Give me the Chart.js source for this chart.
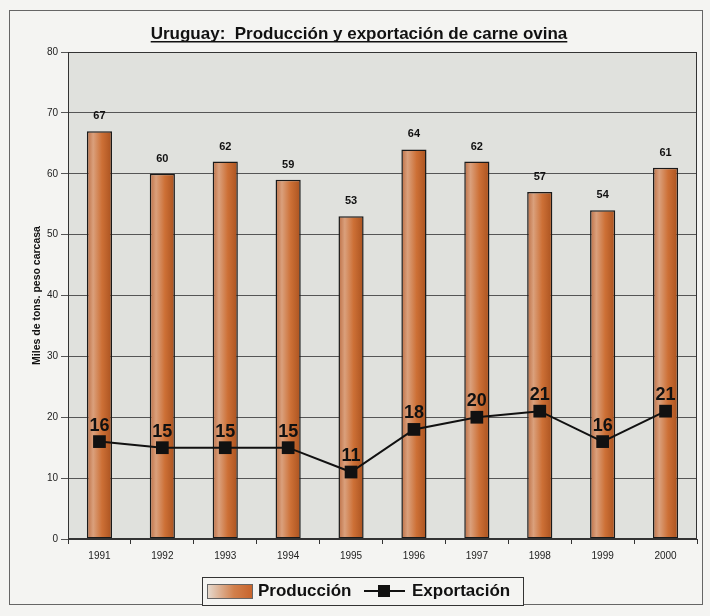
<!DOCTYPE html>
<html>
<head>
<meta charset="utf-8">
<script src="https://cdn.jsdelivr.net/npm/chart.js@4/dist/chart.umd.min.js"></script>
<style>
  html, body { margin: 0; padding: 0; background: #f4f4f2; }
  #wrap { position: relative; width: 710px; height: 616px; }
  #frame { position: absolute; left: 9px; top: 10px; width: 694px; height: 595px; border: 1px solid #666; box-sizing: border-box; }
  canvas { position: absolute; left: 0; top: 0; }
</style>
</head>
<body>
<div id="wrap">
  <div id="frame"></div>
  <canvas id="chart" width="710" height="616"></canvas>
</div>
<script>
// --- data ---
const years = ['1991','1992','1993','1994','1995','1996','1997','1998','1999','2000'];
const produccion = [67, 60, 62, 59, 53, 64, 62, 57, 54, 61];
const exportacion = [16, 15, 15, 15, 11, 18, 20, 21, 16, 21];
const yTicks = [0, 10, 20, 30, 40, 50, 60, 70, 80];

const titleText = 'Uruguay:  Producción y exportación de carne ovina';
const FONT = 'Arial, "Liberation Sans", Helvetica, sans-serif';
const BAR_PCT = 0.4;

// lighter on the left, darker orange-brown on the right
function barGradient(ctx){
  const chart = ctx.chart;
  const xs = chart.scales && chart.scales.x;
  if(!chart.chartArea || !xs) return '#c8703a';
  const cx = xs.getPixelForValue(ctx.dataIndex);
  const w = xs.width / years.length * BAR_PCT;
  const g = chart.ctx.createLinearGradient(cx - w/2, 0, cx + w/2, 0);
  g.addColorStop(0, '#bc6e44');
  g.addColorStop(0.25, '#daa07c');
  g.addColorStop(0.6, '#cd7036');
  g.addColorStop(1, '#aa521f');
  return g;
}

// plot background + frame
const plotBg = {
  id: 'plotBg',
  beforeDraw(chart){
    const { ctx, chartArea: a } = chart;
    ctx.save();
    ctx.fillStyle = '#e0e1dd';
    ctx.fillRect(a.left, a.top, a.right - a.left, a.bottom - a.top);
    ctx.restore();
  },
  afterDraw(chart){
    const { ctx, chartArea: a } = chart;
    ctx.save();
    ctx.strokeStyle = '#333';
    ctx.lineWidth = 1;
    ctx.strokeRect(a.left + 0.5, a.top + 0.5, a.right - a.left - 1, a.bottom - a.top - 1);
    ctx.restore();
  }
};

// title with underline
const underlinedTitle = {
  id: 'underlinedTitle',
  afterDraw(chart){
    const ctx = chart.ctx;
    ctx.save();
    ctx.font = 'bold 17px ' + FONT;
    ctx.fillStyle = '#111';
    ctx.textAlign = 'center';
    ctx.textBaseline = 'alphabetic';
    const cx = 359, by = 39;
    ctx.fillText(titleText, cx, by);
    const w = ctx.measureText(titleText).width;
    ctx.fillRect(cx - w/2, by + 2, w, 1.5);
    ctx.restore();
  }
};

// value labels over bars and points
const valueLabels = {
  id: 'valueLabels',
  afterDatasetsDraw(chart){
    const ctx = chart.ctx;
    ctx.save();
    ctx.textAlign = 'center';
    ctx.textBaseline = 'middle';
    ctx.fillStyle = '#111';
    chart.data.datasets.forEach((ds, di) => {
      const meta = chart.getDatasetMeta(di);
      meta.data.forEach((el, i) => {
        if (ds.type === 'bar') {
          ctx.font = 'bold 11px ' + FONT;
          ctx.fillText(String(produccion[i]), el.x, el.y - 15);
        } else {
          ctx.font = 'bold 18px ' + FONT;
          ctx.fillText(String(exportacion[i]), el.x, el.y - 16);
        }
      });
    });
    ctx.restore();
  }
};

// legend box at the bottom
const boxLegend = {
  id: 'boxLegend',
  afterDraw(chart){
    const ctx = chart.ctx;
    const x0 = 202, y0 = 577, w = 321, h = 28;
    ctx.save();
    ctx.fillStyle = '#f4f4f2';
    ctx.fillRect(x0, y0, w, h);
    ctx.strokeStyle = '#333';
    ctx.lineWidth = 1;
    ctx.strokeRect(x0 + 0.5, y0 + 0.5, w, h);
    const g = ctx.createLinearGradient(207, 0, 252, 0);
    g.addColorStop(0, '#e6dcd2');
    g.addColorStop(0.6, '#d2804c');
    g.addColorStop(1, '#c8642c');
    ctx.fillStyle = g;
    ctx.fillRect(207, 584, 45, 14);
    ctx.strokeStyle = '#666';
    ctx.strokeRect(207.5, 584.5, 45, 14);
    ctx.font = 'bold 17px ' + FONT;
    ctx.fillStyle = '#111';
    ctx.textBaseline = 'middle';
    ctx.textAlign = 'left';
    ctx.fillText('Producción', 258, 591);
    ctx.strokeStyle = '#111';
    ctx.lineWidth = 2;
    ctx.beginPath(); ctx.moveTo(364, 591); ctx.lineTo(405, 591); ctx.stroke();
    ctx.fillRect(378, 585, 12, 12);
    ctx.fillText('Exportación', 412, 591);
    ctx.restore();
  }
};

new Chart(document.getElementById('chart'), {
  data: {
    labels: years,
    datasets: [
      {
        type: 'line',
        label: 'Exportación',
        data: exportacion,
        borderColor: '#111',
        borderWidth: 2,
        backgroundColor: '#111',
        pointStyle: 'rect',
        pointRadius: 9,
        pointBackgroundColor: '#111',
        pointBorderWidth: 0,
        order: 0
      },
      {
        type: 'bar',
        label: 'Producción',
        data: produccion,
        backgroundColor: barGradient,
        borderColor: '#1a1a1a',
        borderWidth: 1.5,
        borderSkipped: false,
        categoryPercentage: 1,
        barPercentage: BAR_PCT,
        order: 1
      }
    ]
  },
  options: {
    responsive: false,
    animation: false,
    events: [],
    layout: { padding: { top: 52, right: 13, bottom: 0, left: 0 } },
    plugins: { legend: { display: false }, title: { display: false }, tooltip: { enabled: false } },
    scales: {
      x: {
        offset: true,
        grid: { display: true, drawOnChartArea: false, offset: true, tickLength: 5, color: '#333' },
        border: { color: '#333' },
        ticks: { color: '#222', font: { family: FONT, size: 10 }, padding: 6, maxRotation: 0 },
        afterFit(s){ s.height = 77; }
      },
      y: {
        min: 0, max: 80,
        afterBuildTicks(s){ s.ticks = yTicks.map(v => ({ value: v })); },
        grid: { color: '#555', tickLength: 7 },
        border: { color: '#333' },
        ticks: { color: '#222', font: { family: FONT, size: 10 }, padding: 3 },
        title: { display: true, text: 'Miles de tons. peso carcasa', color: '#111',
                 font: { family: FONT, size: 10.5, weight: 'bold' }, padding: { top: 31, bottom: 0 } },
        afterFit(s){ s.width = 68; }
      }
    }
  },
  plugins: [plotBg, valueLabels, underlinedTitle, boxLegend]
});
</script>
</body>
</html>
